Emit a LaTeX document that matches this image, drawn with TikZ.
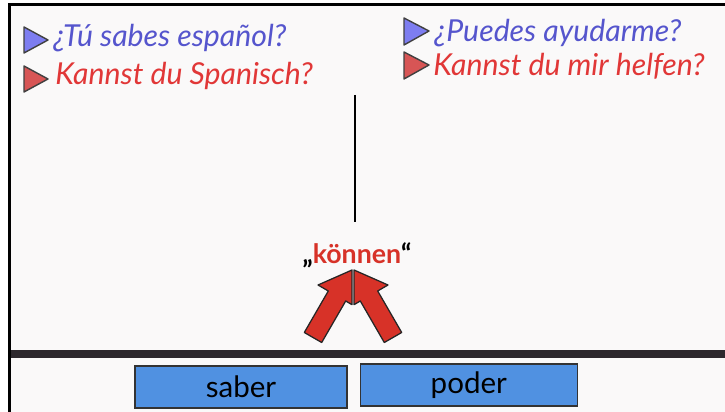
\documentclass[tikz,border=0pt]{standalone}
\usepackage{fontspec}
\setmainfont{Lato}
\usetikzlibrary{positioning}

\definecolor{qblue}{RGB}{85,85,205}
\definecolor{qred}{RGB}{225,55,55}
\definecolor{tblue}{RGB}{125,125,240}
\definecolor{tred}{RGB}{215,85,85}
\definecolor{arrred}{RGB}{215,50,40}
\definecolor{boxblue}{RGB}{80,145,225}
\definecolor{barcol}{RGB}{45,40,45}
\definecolor{board}{RGB}{250,249,249}

\tikzset{
  marker/.style={draw=black!75, line width=1pt, line join=round},
  question/.style={font=\itshape\fontsize{21.5}{24}\selectfont, inner sep=0pt, anchor=west},
  verbbox/.style={draw=black!80, fill=boxblue, line width=0.8pt, minimum height=1.05cm,
                  font=\fontsize{21}{24}\selectfont, inner sep=0pt},
  bigarrow/.style={fill=arrred, draw=black!85, line width=0.9pt, line join=round}
}

\begin{document}
\begin{tikzpicture}[x=0.025cm,y=-0.025cm]
                \useasboundingbox (0,0) rectangle (725,412);
                 \fill[white] (0,0) rectangle (725,412);
                 \fill[board] (11,6) rectangle (725,412);
                 \fill[black] (8,3) rectangle (725,6);
                 \fill[black] (8,3) rectangle (11,412);
                 \fill[barcol] (11,350) rectangle (725,358);

                 % questions
                 \filldraw[marker, fill=tblue] (24,27) -- (48,40) -- (24,53) -- cycle;
                 \node[question, text=qblue] (tusabes) at (53,38) {¿Tú sabes español?};
                 \filldraw[marker, fill=tred] (24,66) -- (48,79) -- (24,92) -- cycle;
                 \node[question, text=qred] (kannstdu) at (55,76) {Kannst du Spanisch?};
                 \filldraw[marker, fill=tblue] (404,18) -- (429,31) -- (404,45) -- cycle;
                 \node[question, text=qblue] (puedes) at (434,33) {¿Puedes ayudarme?};
                 \filldraw[marker, fill=tred] (404,52) -- (429,65) -- (404,79) -- cycle;
                 \node[question, text=qred] (helfen) at (433,66) {Kannst du mir helfen?};

                 % divider
                 \coordinate (linetop) at (355,95);
                 \coordinate (linebot) at (355,222);
                 \draw[line width=1.4pt] (linetop) -- (linebot);

                 \node[font=\bfseries\fontsize{19}{22}\selectfont, inner sep=0pt] (koennen) at (357,255)
                      {„\textcolor{arrred}{können}“};

                 % arrows
                 \filldraw[bigarrow] (352,270) -- (318,285) -- (328.3,291) -- (304.3,332.5)
                      -- (321.7,342.5) -- (345.7,301) -- (352,304.7) -- cycle;
                 \filldraw[bigarrow] (354,270) -- (388,285) -- (377.7,291) -- (401.7,332.5)
                      -- (384.3,342.5) -- (360.3,301) -- (354,304.7) -- cycle;

                 % verbs
                 \node[verbbox, minimum width=5.3cm] (saber) at (241,387) {saber};
                 \node[verbbox, minimum width=5.43cm, right=0.3cm of saber, yshift=0.05cm] (poder) {poder};
            \end{tikzpicture}
\end{document}
